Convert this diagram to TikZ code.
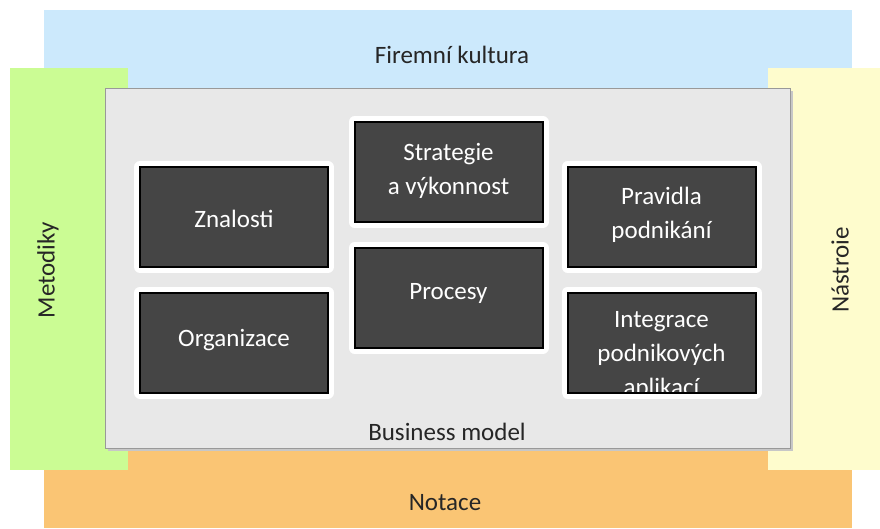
\documentclass[tikz,border=0pt]{standalone}
\usepackage{fontspec}
\setmainfont{Carlito}
\definecolor{cblue}{HTML}{CCE9FC}
\definecolor{cgreen}{HTML}{CBFC94}
\definecolor{cyellow}{HTML}{FEFCCD}
\definecolor{corange}{HTML}{FAC574}
\definecolor{cgray}{HTML}{E8E8E8}
\definecolor{cdark}{HTML}{454545}
\begin{document}
\begin{tikzpicture}[x=1pt,y=-1pt,
  band/.style={inner sep=0pt, outer sep=0pt, draw=none},
  lbl/.style={font=\fontsize{25}{33}\selectfont, text=black!85, inner sep=0pt},
  dbox/.style={fill=cdark, draw=black, line width=2pt, minimum width=188pt, minimum height=100pt, inner sep=0pt, outer sep=0pt,
    preaction={draw=white, line width=12pt, line join=round}},
  dtext/.style={font=\fontsize{25}{34}\selectfont, text=white, align=center, inner sep=0pt}
]
\fill[white] (0,0) rectangle (880,529);
\useasboundingbox (0,0) rectangle (880,529);
% outer bands
\node[band, fill=cblue, minimum width=808pt, minimum height=78pt] (culture) at (448,49) {};
\node[band, fill=corange, minimum width=808pt, minimum height=80pt] (notation) at (448,488) {};
\node[band, fill=cgreen, minimum width=118pt, minimum height=402pt] (methods) at (69,269) {};
\node[band, fill=cyellow, minimum width=112pt, minimum height=402pt] (tools) at (824,269) {};
\node[lbl] (cultureT) at (452,55) {Firemní kultura};
\node[lbl] (notationT) at (445,503) {Notace};
\node[lbl, rotate=90] (methodsT) at (48,270) {Metodiky};
\node[lbl, rotate=90] (toolsT) at (840,270) {Nástroie};
% business model box
\fill[black!22] (108,91) rectangle (793,451);
\node[band, fill=cgray, draw=black!40, line width=0.8pt, minimum width=685pt, minimum height=360pt] (bm) at (447.5,268) {};
\node[lbl] (bmT) at (447,432) {Business model};
% dark boxes
\node[dbox] (zn) at (234,217) {};
\node[dbox] (org) at (234,342.5) {};
\node[dbox] (str) at (448.5,172) {};
\node[dbox] (proc) at (448.5,298) {};
\node[dbox] (prav) at (661.5,217) {};
\node[dbox] (integ) at (661.5,342.5) {};
\node[dtext] (znT) at (234,219) {Znalosti};
\node[dtext] (orgT) at (234,340) {Organizace};
\node[dtext] (strT) at (448.5,171) {Strategie\\a výkonnost};
\node[dtext] (procT) at (448.5,293) {Procesy};
\node[dtext] (pravT) at (661.5,215) {Pravidla\\podnikání};
\begin{scope}
\clip (integ.north west) rectangle (integ.south east);
\node[dtext] (integT) at (661.5,355) {Integrace\\podnikových\\aplikací};
\end{scope}
\draw[black, line width=2pt] (integ.north west) rectangle (integ.south east);
\end{tikzpicture}
\end{document}
